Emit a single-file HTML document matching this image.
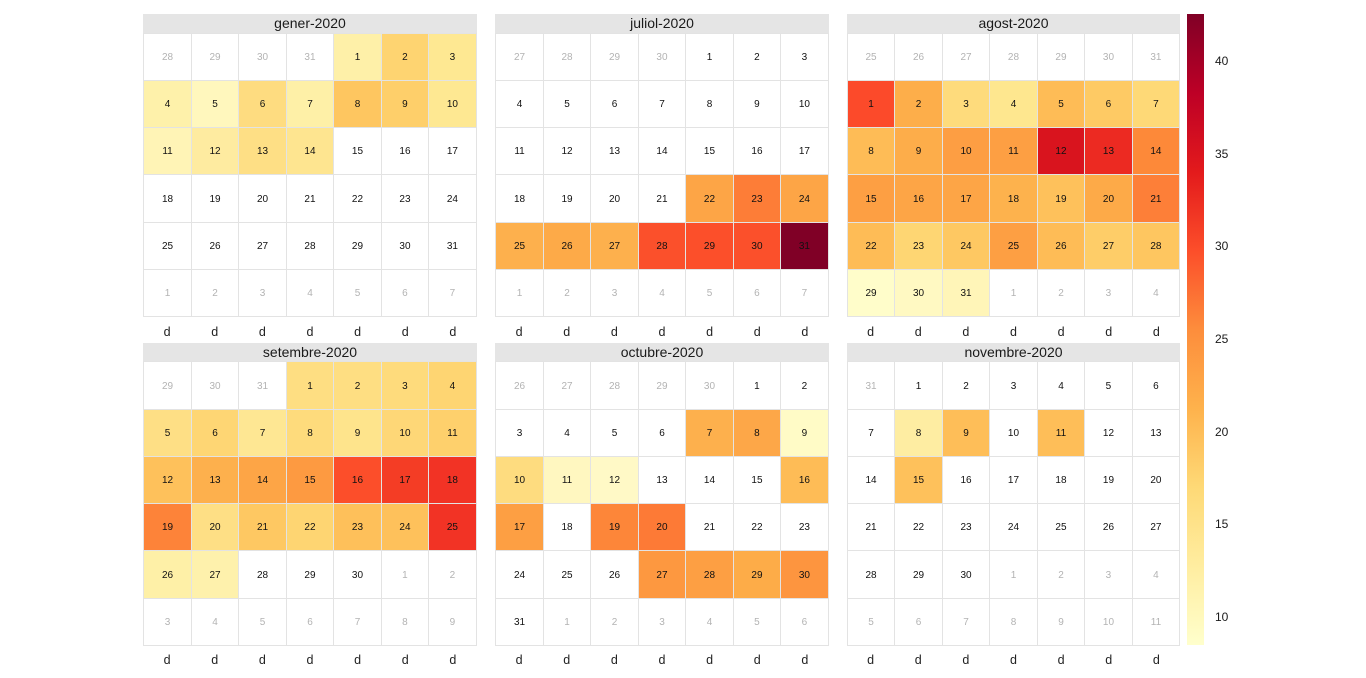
<!DOCTYPE html>
<html><head><meta charset="utf-8"><style>
html,body{margin:0;padding:0;background:#fff;}
body{width:1366px;height:678px;position:relative;overflow:hidden;font-family:"Liberation Sans",Arial,sans-serif;}
.p{position:absolute;width:333.4px;}
.h{height:18.7px;line-height:18.7px;background:#e5e5e5;text-align:center;font-size:14px;color:#1a1a1a;}
.g{display:grid;grid-template-columns:repeat(7,1fr);grid-template-rows:repeat(6,1fr);height:284.6px;background:#e3e3e3;gap:1px;padding:1px;box-sizing:border-box;}
.g>*{background:#fff;display:flex;align-items:center;justify-content:center;font-style:normal;font-size:10px;color:#111;padding-top:1px;box-sizing:border-box;}
.g>i{color:#b3b3b3;}
.x{display:flex;height:14px;margin-top:7.4px;}
.x>span{flex:1;text-align:center;font-size:12.5px;line-height:14px;color:#222;}
.cb{position:absolute;left:1187px;top:13.5px;width:16.7px;height:631.5px;background:linear-gradient(to top,#FFFFCC 0%,#FFEDA0 12.5%,#FED976 25%,#FEB24C 37.5%,#FD8D3C 50%,#FC4E2A 62.5%,#E31A1C 75%,#BD0026 87.5%,#800026 100%);}
.l{position:absolute;left:1215px;font-size:12px;line-height:14px;color:#1a1a1a;}
</style></head><body>

<div class="p" style="left:143.3px;top:14px;">
<div class="h">gener-2020</div>
<div class="g">
<i>28</i><i>29</i><i>30</i><i>31</i><span style="background:#FEF0A8">1</span><span style="background:#FED471">2</span><span style="background:#FEE892">3</span>
<span style="background:#FEF1AA">4</span><span style="background:#FFF7BD">5</span><span style="background:#FEDC80">6</span><span style="background:#FEF0A7">7</span><span style="background:#FEC660">8</span><span style="background:#FECF6A">9</span><span style="background:#FEE892">10</span>
<span style="background:#FFF4B6">11</span><span style="background:#FEEBA0">12</span><span style="background:#FEDF85">13</span><span style="background:#FEE590">14</span><span>15</span><span>16</span><span>17</span>
<span>18</span><span>19</span><span>20</span><span>21</span><span>22</span><span>23</span><span>24</span>
<span>25</span><span>26</span><span>27</span><span>28</span><span>29</span><span>30</span><span>31</span>
<i>1</i><i>2</i><i>3</i><i>4</i><i>5</i><i>6</i><i>7</i>
</div>
<div class="x"><span>d</span><span>d</span><span>d</span><span>d</span><span>d</span><span>d</span><span>d</span></div>
</div>

<div class="p" style="left:495.3px;top:14px;">
<div class="h">juliol-2020</div>
<div class="g">
<i>27</i><i>28</i><i>29</i><i>30</i><span>1</span><span>2</span><span>3</span>
<span>4</span><span>5</span><span>6</span><span>7</span><span>8</span><span>9</span><span>10</span>
<span>11</span><span>12</span><span>13</span><span>14</span><span>15</span><span>16</span><span>17</span>
<span>18</span><span>19</span><span>20</span><span>21</span><span style="background:#FDA546">22</span><span style="background:#FD7D37">23</span><span style="background:#FDA546">24</span>
<span style="background:#FDB04D">25</span><span style="background:#FDAA48">26</span><span style="background:#FDB04D">27</span><span style="background:#FB502B">28</span><span style="background:#FC4F2A">29</span><span style="background:#FB502B">30</span><span style="background:#800026">31</span>
<i>1</i><i>2</i><i>3</i><i>4</i><i>5</i><i>6</i><i>7</i>
</div>
<div class="x"><span>d</span><span>d</span><span>d</span><span>d</span><span>d</span><span>d</span><span>d</span></div>
</div>

<div class="p" style="left:846.8px;top:14px;">
<div class="h">agost-2020</div>
<div class="g">
<i>25</i><i>26</i><i>27</i><i>28</i><i>29</i><i>30</i><i>31</i>
<span style="background:#FC4A2A">1</span><span style="background:#FDAE4A">2</span><span style="background:#FEDB7C">3</span><span style="background:#FEE78F">4</span><span style="background:#FEBC56">5</span><span style="background:#FECA64">6</span><span style="background:#FED977">7</span>
<span style="background:#FEBC56">8</span><span style="background:#FDAD4A">9</span><span style="background:#FD9E43">10</span><span style="background:#FD9F43">11</span><span style="background:#D9141E">12</span><span style="background:#EC2A22">13</span><span style="background:#FD8939">14</span>
<span style="background:#FD9F43">15</span><span style="background:#FDA546">16</span><span style="background:#FDA546">17</span><span style="background:#FDB24D">18</span><span style="background:#FEC15B">19</span><span style="background:#FDAA48">20</span><span style="background:#FD7F38">21</span>
<span style="background:#FEBC56">22</span><span style="background:#FED673">23</span><span style="background:#FEC862">24</span><span style="background:#FD9F43">25</span><span style="background:#FEBC56">26</span><span style="background:#FECD68">27</span><span style="background:#FEC660">28</span>
<span style="background:#FFFDCA">29</span><span style="background:#FFF9C2">30</span><span style="background:#FFF5B8">31</span><i>1</i><i>2</i><i>3</i><i>4</i>
</div>
<div class="x"><span>d</span><span>d</span><span>d</span><span>d</span><span>d</span><span>d</span><span>d</span></div>
</div>

<div class="p" style="left:143.3px;top:342.7px;">
<div class="h">setembre-2020</div>
<div class="g">
<i>29</i><i>30</i><i>31</i><span style="background:#FEDE82">1</span><span style="background:#FEDE82">2</span><span style="background:#FEDB7C">3</span><span style="background:#FED572">4</span>
<span style="background:#FEDF85">5</span><span style="background:#FED674">6</span><span style="background:#FEE793">7</span><span style="background:#FEDB7C">8</span><span style="background:#FEE48C">9</span><span style="background:#FED777">10</span><span style="background:#FED06C">11</span>
<span style="background:#FEC15B">12</span><span style="background:#FDB04D">13</span><span style="background:#FDA546">14</span><span style="background:#FD9A41">15</span><span style="background:#FC4E2A">16</span><span style="background:#F43D25">17</span><span style="background:#F23325">18</span>
<span style="background:#FD8339">19</span><span style="background:#FEDF85">20</span><span style="background:#FEC862">21</span><span style="background:#FED572">22</span><span style="background:#FEC05A">23</span><span style="background:#FEC15B">24</span><span style="background:#F23325">25</span>
<span style="background:#FEF0A7">26</span><span style="background:#FEF1AC">27</span><span>28</span><span>29</span><span>30</span><i>1</i><i>2</i>
<i>3</i><i>4</i><i>5</i><i>6</i><i>7</i><i>8</i><i>9</i>
</div>
<div class="x"><span>d</span><span>d</span><span>d</span><span>d</span><span>d</span><span>d</span><span>d</span></div>
</div>

<div class="p" style="left:495.3px;top:342.7px;">
<div class="h">octubre-2020</div>
<div class="g">
<i>26</i><i>27</i><i>28</i><i>29</i><i>30</i><span>1</span><span>2</span>
<span>3</span><span>4</span><span>5</span><span>6</span><span style="background:#FDB04D">7</span><span style="background:#FDA748">8</span><span style="background:#FFFBC6">9</span>
<span style="background:#FEDC7F">10</span><span style="background:#FFF7C0">11</span><span style="background:#FFF9C6">12</span><span>13</span><span>14</span><span>15</span><span style="background:#FEBC56">16</span>
<span style="background:#FD9F43">17</span><span>18</span><span style="background:#FD8639">19</span><span style="background:#FD7A36">20</span><span>21</span><span>22</span><span>23</span>
<span>24</span><span>25</span><span>26</span><span style="background:#FD9840">27</span><span style="background:#FD9F43">28</span><span style="background:#FDAC48">29</span><span style="background:#FD953F">30</span>
<span>31</span><i>1</i><i>2</i><i>3</i><i>4</i><i>5</i><i>6</i>
</div>
<div class="x"><span>d</span><span>d</span><span>d</span><span>d</span><span>d</span><span>d</span><span>d</span></div>
</div>

<div class="p" style="left:846.8px;top:342.7px;">
<div class="h">novembre-2020</div>
<div class="g">
<i>31</i><span>1</span><span>2</span><span>3</span><span>4</span><span>5</span><span>6</span>
<span>7</span><span style="background:#FEEDA2">8</span><span style="background:#FEBE58">9</span><span>10</span><span style="background:#FEBE58">11</span><span>12</span><span>13</span>
<span>14</span><span style="background:#FEC15B">15</span><span>16</span><span>17</span><span>18</span><span>19</span><span>20</span>
<span>21</span><span>22</span><span>23</span><span>24</span><span>25</span><span>26</span><span>27</span>
<span>28</span><span>29</span><span>30</span><i>1</i><i>2</i><i>3</i><i>4</i>
<i>5</i><i>6</i><i>7</i><i>8</i><i>9</i><i>10</i><i>11</i>
</div>
<div class="x"><span>d</span><span>d</span><span>d</span><span>d</span><span>d</span><span>d</span><span>d</span></div>
</div>

<div class="cb"></div>
<div class="l" style="top:54.1px">40</div>
<div class="l" style="top:146.8px">35</div>
<div class="l" style="top:239.4px">30</div>
<div class="l" style="top:332.1px">25</div>
<div class="l" style="top:424.7px">20</div>
<div class="l" style="top:517.4px">15</div>
<div class="l" style="top:610px">10</div>

</body></html>
